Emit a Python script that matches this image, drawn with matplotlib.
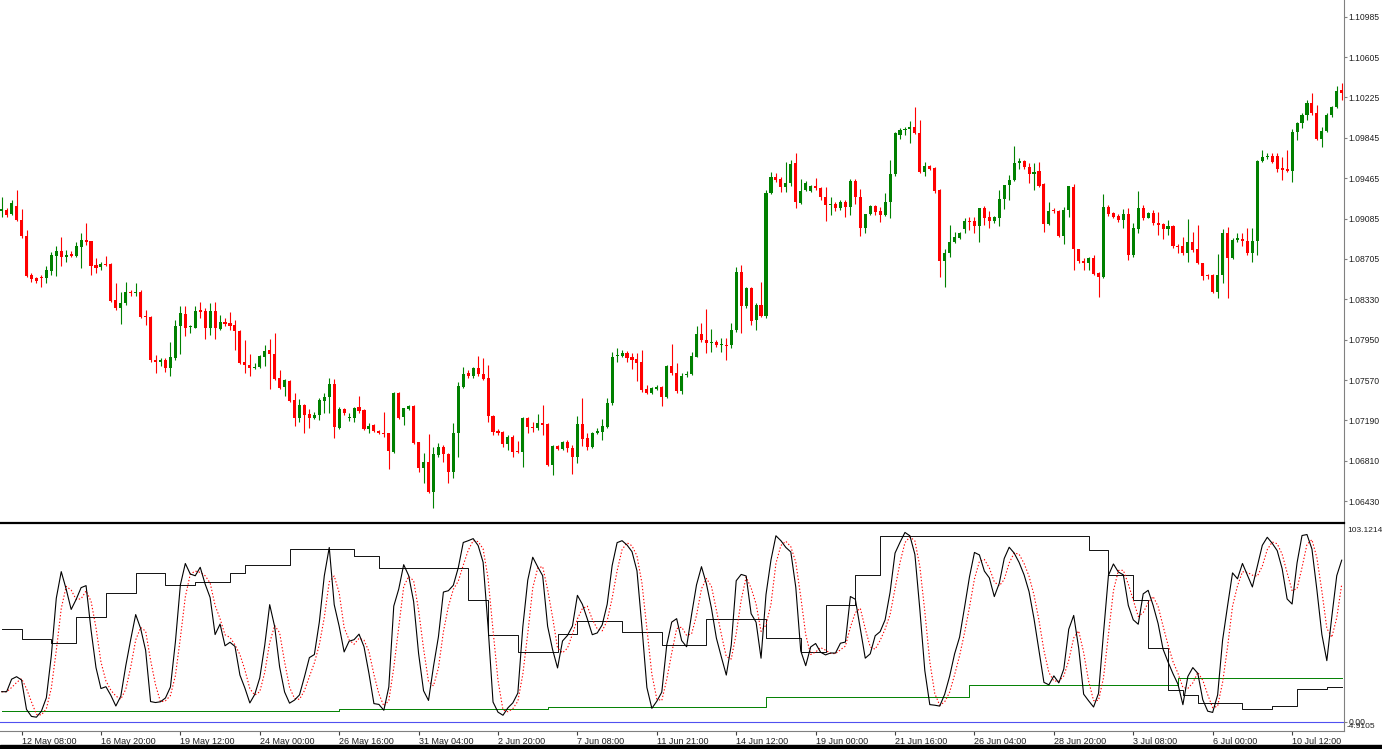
import numpy as np
import pandas as pd
import matplotlib.pyplot as plt
from matplotlib.patches import Rectangle

plt.rcParams['font.family'] = ['Liberation Sans', 'DejaVu Sans']

# EURUSD H4 candles
opens = [
    1.09155, 1.09164, 1.09126, 1.09202, 1.09070, 1.08918, 1.08552, 1.08523, 1.08532, 1.08523,
    1.08589, 1.08730, 1.08778, 1.08721, 1.08749, 1.08730, 1.08815, 1.08881, 1.08872, 1.08646,
    1.08627, 1.08655, 1.08655, 1.08316, 1.08241, 1.08288, 1.08391, 1.08382, 1.08391, 1.08166,
    1.08156, 1.07751, 1.07732, 1.07751, 1.07676, 1.07770, 1.08071, 1.08184, 1.08062, 1.08052,
    1.08222, 1.08213, 1.08052, 1.08213, 1.08043, 1.08109, 1.08100, 1.08081, 1.08024, 1.07732,
    1.07704, 1.07676, 1.07685, 1.07779, 1.07845, 1.07807, 1.07581, 1.07497, 1.07553, 1.07374,
    1.07205, 1.07327, 1.07242, 1.07205, 1.07233, 1.07365, 1.07402, 1.07525, 1.07110, 1.07289,
    1.07205, 1.07205, 1.07308, 1.07280, 1.07101, 1.07139, 1.07082, 1.07063, 1.07063, 1.06884,
    1.07440, 1.07214, 1.07289, 1.07317, 1.06978, 1.06734, 1.06790, 1.06516, 1.06856, 1.06931,
    1.06865, 1.06696, 1.07063, 1.07497, 1.07629, 1.07600, 1.07676, 1.07619, 1.07581, 1.07223,
    1.07082, 1.07072, 1.06960, 1.07025, 1.06894, 1.06884, 1.07205, 1.07120, 1.07110, 1.07157,
    1.07148, 1.06762, 1.06941, 1.06912, 1.06978, 1.06922, 1.06837, 1.07148, 1.07016, 1.06931,
    1.07063, 1.07072, 1.07120, 1.07346, 1.07789, 1.07789, 1.07817, 1.07779, 1.07760, 1.07732,
    1.07478, 1.07440, 1.07478, 1.07497, 1.07402, 1.07694, 1.07629, 1.07459, 1.07610, 1.07619,
    1.07779, 1.07996, 1.07939, 1.07911, 1.07920, 1.07892, 1.07892, 1.07892, 1.08033, 1.08580,
    1.08260, 1.08429, 1.08128, 1.08269, 1.08166, 1.09324, 1.09475, 1.09456, 1.09381, 1.09418,
    1.09607, 1.09230, 1.09352, 1.09343, 1.09390, 1.09371, 1.09286, 1.09211, 1.09220, 1.09183,
    1.09239, 1.09192, 1.09437, 1.09286, 1.08994, 1.09126, 1.09202, 1.09155, 1.09117, 1.09239,
    1.09503, 1.09870, 1.09917, 1.09927, 1.09945, 1.09889, 1.09522, 1.09578, 1.09560, 1.09352,
    1.08683, 1.08759, 1.08862, 1.08900, 1.08985, 1.09061, 1.09061, 1.09013, 1.09183, 1.09098,
    1.09061, 1.09089, 1.09267, 1.09399, 1.09446, 1.09607, 1.09625, 1.09569, 1.09503, 1.09531,
    1.09409, 1.09032, 1.09164, 1.09155, 1.08918, 1.09164, 1.09381, 1.08796, 1.08683, 1.08664,
    1.08712, 1.08570, 1.08532, 1.09192, 1.09136, 1.09108, 1.09070, 1.09126, 1.08740, 1.08985,
    1.09183, 1.09089, 1.09136, 1.09042, 1.09032, 1.08985, 1.09013, 1.08825, 1.08825, 1.08759,
    1.08862, 1.08796, 1.08664, 1.08552, 1.08552, 1.08391, 1.08552, 1.08947, 1.08712, 1.08881,
    1.08890, 1.08872, 1.08759, 1.08872, 1.09625, 1.09663, 1.09673, 1.09673, 1.09560, 1.09550,
    1.09531, 1.09898, 1.09983, 1.10059, 1.10172, 1.10078, 1.09832, 1.09908, 1.10059, 1.10134,
    1.10294,
]
highs = [
    1.09286, 1.09183, 1.09258, 1.09352, 1.09173, 1.08975, 1.08570, 1.08532, 1.08552, 1.08636,
    1.08768, 1.08825, 1.08909, 1.08787, 1.08778, 1.08862, 1.08947, 1.09042, 1.08872, 1.08712,
    1.08674, 1.08730, 1.08664, 1.08476, 1.08391, 1.08485, 1.08410, 1.08476, 1.08410, 1.08222,
    1.08166, 1.07798, 1.07770, 1.07770, 1.07920, 1.08128, 1.08260, 1.08260, 1.08081, 1.08260,
    1.08297, 1.08241, 1.08288, 1.08297, 1.08175, 1.08147, 1.08203, 1.08128, 1.08033, 1.07939,
    1.07807, 1.07723, 1.07798, 1.07892, 1.07948, 1.08005, 1.07657, 1.07572, 1.07562, 1.07440,
    1.07384, 1.07336, 1.07289, 1.07261, 1.07393, 1.07440, 1.07581, 1.07572, 1.07308, 1.07299,
    1.07252, 1.07308, 1.07412, 1.07289, 1.07157, 1.07148, 1.07091, 1.07261, 1.07063, 1.07449,
    1.07449, 1.07299, 1.07327, 1.07327, 1.06978, 1.06875, 1.07054, 1.06931, 1.06969, 1.06950,
    1.06875, 1.07157, 1.07544, 1.07685, 1.07657, 1.07685, 1.07789, 1.07770, 1.07704, 1.07233,
    1.07101, 1.07082, 1.07044, 1.07044, 1.06988, 1.07214, 1.07214, 1.07167, 1.07242, 1.07327,
    1.07157, 1.06950, 1.06950, 1.06988, 1.06997, 1.06950, 1.07223, 1.07393, 1.07063, 1.07072,
    1.07110, 1.07195, 1.07393, 1.07826, 1.07864, 1.07845, 1.07836, 1.07817, 1.07817, 1.07845,
    1.07515, 1.07497, 1.07515, 1.07506, 1.07704, 1.07901, 1.07723, 1.07629, 1.07647, 1.07826,
    1.08071, 1.08100, 1.08231, 1.08043, 1.07939, 1.07958, 1.07958, 1.08100, 1.08627, 1.08646,
    1.08438, 1.08438, 1.08288, 1.08485, 1.09352, 1.09522, 1.09513, 1.09475, 1.09616, 1.09635,
    1.09701, 1.09456, 1.09437, 1.09399, 1.09465, 1.09381, 1.09381, 1.09286, 1.09239, 1.09258,
    1.09258, 1.09456, 1.09456, 1.09362, 1.09126, 1.09211, 1.09211, 1.09192, 1.09324, 1.09635,
    1.09898, 1.09936, 1.09945, 1.10002, 1.10134, 1.10012, 1.09616, 1.09588, 1.09569, 1.09362,
    1.08796, 1.09023, 1.08956, 1.08956, 1.09089, 1.09098, 1.09098, 1.09183, 1.09202, 1.09155,
    1.09108, 1.09352, 1.09399, 1.09493, 1.09767, 1.09654, 1.09635, 1.09607, 1.09607, 1.09616,
    1.09418, 1.09239, 1.09183, 1.09164, 1.09192, 1.09390, 1.09409, 1.08796, 1.08712, 1.08721,
    1.08740, 1.08580, 1.09315, 1.09211, 1.09145, 1.09126, 1.09173, 1.09183, 1.09042, 1.09343,
    1.09211, 1.09145, 1.09164, 1.09145, 1.09042, 1.09070, 1.09023, 1.08843, 1.08909, 1.09080,
    1.08956, 1.09023, 1.08664, 1.08561, 1.08561, 1.08749, 1.08985, 1.09004, 1.08900, 1.08947,
    1.08947, 1.08994, 1.08994, 1.09635, 1.09729, 1.09701, 1.09701, 1.09701, 1.09663, 1.09729,
    1.09927, 1.09993, 1.10078, 1.10200, 1.10266, 1.10153, 1.09945, 1.10078, 1.10144, 1.10332,
    1.10360,
]
lows = [
    1.09098, 1.09098, 1.09117, 1.09061, 1.08900, 1.08532, 1.08485, 1.08476, 1.08438, 1.08476,
    1.08552, 1.08542, 1.08636, 1.08674, 1.08721, 1.08721, 1.08617, 1.08834, 1.08552, 1.08570,
    1.08599, 1.08636, 1.08297, 1.08222, 1.08090, 1.08269, 1.08354, 1.08354, 1.08147, 1.08081,
    1.07732, 1.07629, 1.07694, 1.07638, 1.07600, 1.07751, 1.07807, 1.07977, 1.08005, 1.08052,
    1.08147, 1.07948, 1.07986, 1.07948, 1.08033, 1.08071, 1.08033, 1.07845, 1.07713, 1.07629,
    1.07600, 1.07666, 1.07676, 1.07694, 1.07478, 1.07562, 1.07478, 1.07412, 1.07355, 1.07129,
    1.07167, 1.07063, 1.07110, 1.07195, 1.07186, 1.07252, 1.07252, 1.07016, 1.07101, 1.07233,
    1.07176, 1.07167, 1.07252, 1.07091, 1.07063, 1.07072, 1.07054, 1.07025, 1.06724, 1.06875,
    1.07195, 1.07139, 1.07280, 1.06960, 1.06696, 1.06592, 1.06498, 1.06357, 1.06837, 1.06790,
    1.06601, 1.06648, 1.06837, 1.07487, 1.07581, 1.07581, 1.07600, 1.07562, 1.07167, 1.07044,
    1.07044, 1.06931, 1.06903, 1.06837, 1.06875, 1.06743, 1.07063, 1.07072, 1.07091, 1.07044,
    1.06752, 1.06668, 1.06903, 1.06903, 1.06884, 1.06677, 1.06781, 1.06941, 1.06903, 1.06922,
    1.07054, 1.06997, 1.07110, 1.07327, 1.07732, 1.07779, 1.07732, 1.07666, 1.07553, 1.07449,
    1.07431, 1.07431, 1.07468, 1.07317, 1.07393, 1.07610, 1.07440, 1.07431, 1.07591, 1.07610,
    1.07779, 1.07920, 1.07817, 1.07826, 1.07873, 1.07826, 1.07751, 1.07864, 1.08014, 1.08005,
    1.08241, 1.08081, 1.08033, 1.08156, 1.08147, 1.09315, 1.09428, 1.09334, 1.09334, 1.09390,
    1.09183, 1.09220, 1.09343, 1.09334, 1.09352, 1.09258, 1.09061, 1.09117, 1.09155, 1.09164,
    1.09098, 1.09117, 1.09220, 1.08918, 1.08947, 1.09117, 1.09117, 1.09051, 1.09108, 1.09089,
    1.09484, 1.09832, 1.09870, 1.09795, 1.09880, 1.09513, 1.09484, 1.09541, 1.09324, 1.08532,
    1.08438, 1.08721, 1.08853, 1.08890, 1.08947, 1.08975, 1.08947, 1.08862, 1.09023, 1.08994,
    1.09042, 1.09013, 1.09173, 1.09258, 1.09437, 1.09550, 1.09550, 1.09418, 1.09352, 1.09381,
    1.08956, 1.09023, 1.09136, 1.08909, 1.08843, 1.09098, 1.08599, 1.08664, 1.08599, 1.08599,
    1.08552, 1.08344, 1.08523, 1.09108, 1.09089, 1.09051, 1.08994, 1.08693, 1.08721, 1.08947,
    1.09070, 1.09089, 1.09023, 1.08928, 1.08890, 1.08928, 1.08806, 1.08759, 1.08740, 1.08674,
    1.08768, 1.08655, 1.08504, 1.08514, 1.08382, 1.08335, 1.08476, 1.08335, 1.08702, 1.08862,
    1.08825, 1.08740, 1.08674, 1.08740, 1.09616, 1.09644, 1.09607, 1.09522, 1.09446, 1.09522,
    1.09428, 1.09823, 1.09936, 1.10012, 1.10059, 1.09823, 1.09757, 1.09898, 1.10040, 1.10125,
    1.10200,
]
closes = [
    1.09173, 1.09117, 1.09230, 1.09070, 1.08918, 1.08542, 1.08514, 1.08495, 1.08523, 1.08599,
    1.08740, 1.08778, 1.08721, 1.08740, 1.08735, 1.08825, 1.08881, 1.08862, 1.08636, 1.08617,
    1.08655, 1.08650, 1.08307, 1.08241, 1.08288, 1.08391, 1.08382, 1.08391, 1.08156, 1.08156,
    1.07751, 1.07732, 1.07751, 1.07676, 1.07779, 1.08071, 1.08194, 1.08052, 1.08071, 1.08213,
    1.08203, 1.08052, 1.08213, 1.08052, 1.08109, 1.08095, 1.08071, 1.08024, 1.07723, 1.07704,
    1.07676, 1.07690, 1.07789, 1.07836, 1.07807, 1.07572, 1.07487, 1.07562, 1.07365, 1.07205,
    1.07327, 1.07233, 1.07205, 1.07233, 1.07374, 1.07402, 1.07525, 1.07120, 1.07289, 1.07252,
    1.07214, 1.07299, 1.07270, 1.07101, 1.07129, 1.07082, 1.07063, 1.07054, 1.06894, 1.07440,
    1.07205, 1.07299, 1.07317, 1.06969, 1.06734, 1.06790, 1.06516, 1.06865, 1.06931, 1.06865,
    1.06696, 1.07063, 1.07506, 1.07619, 1.07600, 1.07676, 1.07619, 1.07572, 1.07223, 1.07072,
    1.07063, 1.06960, 1.07025, 1.06884, 1.06884, 1.07205, 1.07120, 1.07110, 1.07157, 1.07139,
    1.06762, 1.06941, 1.06912, 1.06978, 1.06922, 1.06837, 1.07148, 1.07006, 1.06931, 1.07063,
    1.07082, 1.07129, 1.07346, 1.07779, 1.07798, 1.07817, 1.07770, 1.07751, 1.07723, 1.07468,
    1.07440, 1.07487, 1.07497, 1.07402, 1.07694, 1.07629, 1.07459, 1.07600, 1.07619, 1.07789,
    1.07996, 1.07939, 1.07911, 1.07920, 1.07892, 1.07893, 1.07887, 1.08033, 1.08580, 1.08260,
    1.08429, 1.08118, 1.08269, 1.08166, 1.09324, 1.09475, 1.09446, 1.09381, 1.09418, 1.09597,
    1.09239, 1.09343, 1.09418, 1.09390, 1.09371, 1.09286, 1.09211, 1.09220, 1.09183, 1.09239,
    1.09192, 1.09437, 1.09286, 1.08994, 1.09126, 1.09202, 1.09145, 1.09117, 1.09239, 1.09503,
    1.09889, 1.09917, 1.09927, 1.09945, 1.09889, 1.09522, 1.09578, 1.09550, 1.09343, 1.08683,
    1.08759, 1.08862, 1.08909, 1.08947, 1.09061, 1.09056, 1.09013, 1.09183, 1.09089, 1.09061,
    1.09098, 1.09267, 1.09399, 1.09446, 1.09607, 1.09625, 1.09569, 1.09503, 1.09522, 1.09390,
    1.09032, 1.09155, 1.09155, 1.08918, 1.09164, 1.09390, 1.08796, 1.08683, 1.08664, 1.08712,
    1.08561, 1.08532, 1.09192, 1.09126, 1.09098, 1.09070, 1.09126, 1.08740, 1.08994, 1.09183,
    1.09089, 1.09136, 1.09042, 1.09023, 1.08985, 1.09013, 1.08825, 1.08815, 1.08759, 1.08862,
    1.08787, 1.08664, 1.08542, 1.08542, 1.08391, 1.08552, 1.08947, 1.08712, 1.08881, 1.08900,
    1.08872, 1.08759, 1.08872, 1.09625, 1.09663, 1.09673, 1.09616, 1.09550, 1.09541, 1.09531,
    1.09898, 1.09983, 1.10059, 1.10172, 1.10078, 1.09832, 1.09908, 1.10059, 1.10134, 1.10285,
    1.10266,
]

price_ticks = [1.10985, 1.10605, 1.10225, 1.09845, 1.09465, 1.09085, 1.08705,
               1.08325, 1.07945, 1.07565, 1.07185, 1.06805, 1.06425]
price_labels = ['1.10985', '1.10605', '1.10225', '1.09845', '1.09465', '1.09085', '1.08705',
                '1.08330', '1.07950', '1.07570', '1.07190', '1.06810', '1.06430']

date_ticks = [4, 20, 36, 52, 68, 84, 100, 116, 132, 148, 164, 180, 196, 212, 228, 244, 260]
date_labels = ['12 May 08:00', '16 May 20:00', '19 May 12:00', '24 May 00:00', '26 May 16:00',
               '31 May 04:00', '2 Jun 20:00', '7 Jun 08:00', '11 Jun 21:00', '14 Jun 12:00',
               '19 Jun 00:00', '21 Jun 16:00', '26 Jun 04:00', '28 Jun 20:00', '3 Jul 08:00',
               '6 Jul 00:00', '10 Jul 12:00']

# stochastic (5,3,3) main line for the first bars, before enough history exists
stoch_head = [15.5, 15.5, 22.0, 23.3, 21.6, 6.3]

# step lines in the indicator window: bar where each step starts, and its level
black_step_start = [0, 4, 10, 15, 21, 27, 33, 39, 46, 49, 58, 71, 76, 94, 98, 104, 112,
                    116, 125, 133, 142, 154, 161, 166, 172, 177, 219, 223, 228, 231, 235,
                    238, 241, 250, 256, 261, 267]
black_step_level = [47.9, 42.9, 40.8, 54.3, 66.8, 77.2, 70.9, 72.5, 77.2, 81.3, 89.6, 86.0,
                    79.7, 63.1, 45.0, 36.1, 45.5, 52.2, 46.5, 39.8, 53.2, 43.4, 36.1, 60.5,
                    76.1, 96.4, 89.1, 76.1, 63.1, 38.2, 16.4, 13.8, 9.6, 6.5, 8.1, 16.9, 17.9]
green_step_start = [0, 68, 110, 154, 195, 237]
green_step_level = [5.6, 6.6, 7.6, 12.5, 19.0, 22.5]

W, H = 1382, 749
fig = plt.figure(figsize=(W / 100, H / 100), dpi=100)
fig.patch.set_facecolor('white')

ax1 = fig.add_axes([0, (H - 522) / H, 1344 / W, 522 / H])
ax2 = fig.add_axes([0, (H - 731) / H, 1344 / W, (731 - 523) / H])

o = np.array(opens)
h = np.array(highs)
l = np.array(lows)
c = np.array(closes)
n = len(c)
idx = np.arange(n)
col = np.where(c >= o, '#008000', '#ff0000')

ax1.vlines(idx, l, h, colors=col, linewidth=0.8)
body = np.maximum(np.abs(c - o), 0.00009)
ax1.bar(idx, body, bottom=np.minimum(o, c), width=0.62, color=col, linewidth=0)

xlim = (-0.34, 270.46)
ax1.set_xlim(*xlim)
ax1.set_ylim(1.062293, 1.111423)
ax1.set_xticks([])
ax1.yaxis.tick_right()
ax1.set_yticks(price_ticks)
ax1.set_yticklabels(price_labels)
ax1.tick_params(axis='y', length=2.2, width=0.8, color='#808080', labelsize=6.2, pad=0.8,
                labelcolor='#202020')
for s in ['left', 'top', 'bottom']:
    ax1.spines[s].set_visible(False)
ax1.spines['right'].set_color('#808080')
ax1.spines['right'].set_linewidth(0.8)

# stochastic oscillator 5,3,3
hh = pd.Series(h).rolling(5).max()
ll = pd.Series(l).rolling(5).min()
num = (pd.Series(c) - ll).rolling(3).sum()
den = (hh - ll).rolling(3).sum()
k = (100 * num / den).to_numpy()
k[:len(stoch_head)] = stoch_head
d = pd.Series(k).rolling(3, min_periods=1).mean().to_numpy()


def steps(starts, levels):
    out = np.empty(n)
    bounds = list(starts) + [n]
    for s, e, v in zip(bounds[:-1], bounds[1:], levels):
        out[s:e] = v
    return out


ax2.set_xlim(*xlim)
ax2.set_ylim(-4.9105, 103.1214)
ax2.axhline(0, color='#5050f0', linewidth=0.8)
ax2.plot(idx, steps(green_step_start, green_step_level), color='#008000', linewidth=0.7,
         drawstyle='steps-post')
ax2.plot(idx, steps(black_step_start, black_step_level), color='#101010', linewidth=0.7,
         drawstyle='steps-post')
ax2.plot(idx, d, color='#ff0000', linewidth=0.8, linestyle=(0, (1.2, 1.8)))
ax2.plot(idx, k, color='black', linewidth=0.8)

ax2.yaxis.tick_right()
ax2.set_yticks([0])
ax2.set_yticklabels(['0.00'])
ax2.tick_params(axis='y', length=2.2, width=0.8, color='#808080', labelsize=6.2, pad=0.8,
                labelcolor='#202020')
ax2.text(1.0022, 0.962, '103.1214', transform=ax2.transAxes, fontsize=6.0,
         va='center', ha='left', color='#202020')
ax2.text(1.0022, 0.02, '-4.9105', transform=ax2.transAxes, fontsize=6.0,
         va='center', ha='left', color='#202020')
ax2.set_xticks(date_ticks)
ax2.set_xticklabels(date_labels, ha='left')
ax2.tick_params(axis='x', length=3, width=0.8, color='#404040', labelsize=6.5, pad=1,
                labelcolor='#202020')
ax2.spines['left'].set_visible(False)
ax2.spines['top'].set_color('black')
ax2.spines['top'].set_linewidth(1.6)
ax2.spines['right'].set_color('#808080')
ax2.spines['right'].set_linewidth(0.8)
ax2.spines['bottom'].set_color('#808080')
ax2.spines['bottom'].set_linewidth(0.8)

fig.patches.append(Rectangle((0, 0), 1, 4 / H, transform=fig.transFigure,
                             color='black', zorder=10))

fig.savefig('out.png', dpi=100)
